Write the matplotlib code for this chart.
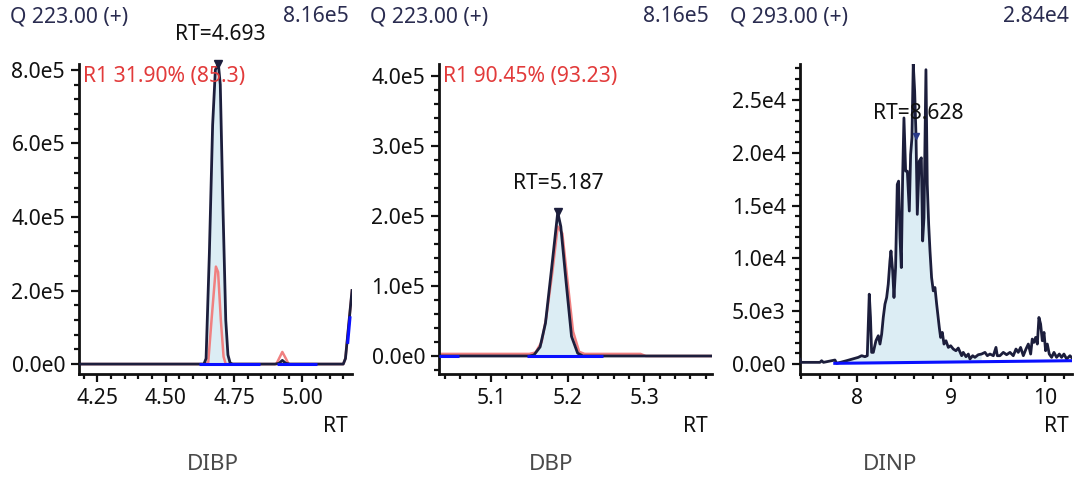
import numpy as np
import matplotlib
matplotlib.use("Agg")
import matplotlib.pyplot as plt
from matplotlib.ticker import MultipleLocator, FuncFormatter, FormatStrFormatter

plt.rcParams['font.family'] = ['Noto Sans', 'DejaVu Sans']

# ---------------- data ----------------
titles = ["DIBP", "DBP", "DINP"]
headers = ["Q 223.00 (+)", "Q 223.00 (+)", "Q 293.00 (+)"]
scales = ["8.16e5", "8.16e5", "2.84e4"]
ratio_labels = ["R1 31.90% (85.3)", "R1 90.45% (93.23)", None]
peak_rts = [4.693, 5.187, 8.628]
peak_vals = [8.16e5, 2.05e5, 2.16e4]

# DIBP
dibp_rt = [4.183, 4.600, 4.640, 4.648, 4.660, 4.672, 4.682, 4.693, 4.700, 4.710, 4.720,
           4.728, 4.736, 4.745, 4.900, 4.915, 4.927, 4.940, 4.955, 5.100, 5.150, 5.158, 5.182]
dibp_int = [0, 0, 0, 1.5e4, 3.0e5, 6.5e5, 8.0e5, 8.16e5, 7.6e5, 4.2e5, 1.2e5,
            2.5e4, 3e3, 0, 0, 2e3, 1.0e4, 2e3, 0, 0, 0, 1.5e4, 2.0e5]
dibp_q_rt = [4.183, 4.645, 4.656, 4.668, 4.684, 4.692, 4.702, 4.712, 4.720, 4.905, 4.915,
             4.927, 4.940, 4.950, 5.150, 5.158, 5.182]
dibp_q_int = [0, 0, 5e3, 1.2e5, 2.65e5, 2.5e5, 1.2e5, 2e4, 0, 0, 1.5e4,
              3.3e4, 1.5e4, 0, 0, 1.5e4, 2.0e5]
dibp_base = [[(4.623, 0), (4.845, 0)], [(4.906, 0), (5.055, 0)], [(5.166, 5.5e4), (5.175, 1.3e5)]]
dibp_window = (4.640, 4.745)

# DBP
dbp_rt = [5.032, 5.150, 5.156, 5.164, 5.171, 5.179, 5.187, 5.191, 5.198, 5.205, 5.213, 5.220, 5.388]
dbp_int = [0, 0, 1.5e3, 1.3e4, 4.7e4, 1.25e5, 2.05e5, 1.85e5, 1.05e5, 2.8e4, 4e3, 0, 0]
dbp_q_rt = [5.032, 5.150, 5.158, 5.166, 5.172, 5.180, 5.187, 5.193, 5.200, 5.207, 5.215,
            5.222, 5.295, 5.302, 5.388]
dbp_q_int = [3e3, 3e3, 5e3, 2.0e4, 5.5e4, 1.2e5, 1.85e5, 1.75e5, 1.05e5, 3.5e4, 6e3,
             3e3, 3e3, 0, 0]
dbp_base = [[(5.032, 0), (5.058, 0)], [(5.147, 0), (5.246, 0)]]
dbp_window = (5.150, 5.222)

# DINP
dinp_rt = [7.387, 7.397, 7.603, 7.620, 7.640, 7.762, 7.780, 7.886, 8.010, 8.046, 8.081, 8.106,
           8.127, 8.140, 8.152, 8.170, 8.198, 8.223, 8.241, 8.259, 8.276, 8.294, 8.312, 8.329,
           8.347, 8.358, 8.376, 8.390, 8.407, 8.425, 8.439, 8.454, 8.468, 8.482, 8.496,
           8.514, 8.532, 8.553, 8.567, 8.581, 8.595, 8.610, 8.624, 8.638, 8.659, 8.681,
           8.695, 8.709, 8.730, 8.744, 8.759, 8.773, 8.790, 8.808, 8.826, 8.844, 8.872,
           8.886, 8.904, 8.922, 8.943, 8.968, 8.993, 9.021, 9.049, 9.074, 9.110, 9.127,
           9.156, 9.181, 9.198, 9.227, 9.251, 9.287, 9.322, 9.358, 9.383, 9.411, 9.447,
           9.475, 9.489, 9.517, 9.553, 9.588, 9.624, 9.659, 9.688, 9.712, 9.737, 9.766,
           9.794, 9.819, 9.844, 9.861, 9.879, 9.897, 9.915, 9.932, 9.950, 9.968, 9.986,
           10.003, 10.021, 10.042, 10.067, 10.092, 10.120, 10.149, 10.173, 10.198, 10.227,
           10.262, 10.294]
dinp_int = [450, 157, 157, 315, 157, 378, 63, 315, 630, 787, 693, 787,
            6611, 4407, 1102, 1102, 2204, 2676, 1889, 2833, 4407, 5666, 6296, 7555,
            9759, 10703, 8814, 6296, 9129, 16999, 17314, 11962, 9129, 17629, 23295,
            18258, 18258, 14481, 19832, 21406, 28400, 25814, 21721, 14166, 19203, 19518,
            11648, 13851, 27860, 16999, 13222, 10703, 8185, 6926, 7240, 5666, 3463,
            2518, 2991, 1889, 2204, 1574, 1731, 1417, 1259, 1511, 787, 1102,
            693, 944, 472, 787, 630, 881, 944, 1102, 787, 944, 787,
            1574, 787, 787, 1102, 881, 1102, 787, 1417, 1102, 1574, 787,
            1417, 1889, 944, 2361, 2046, 2518, 1889, 4407, 3778, 2204, 2991,
            1259, 1889, 944, 630, 1102, 630, 944, 630, 944, 472,
            787, 472]
dinp_base = [[(7.744, 63), (10.294, 315)]]
dinp_window = (7.75, 9.35)

panels = [
    dict(rt=dibp_rt, y=dibp_int, qrt=dibp_q_rt, qy=dibp_q_int, base=dibp_base, win=dibp_window,
         xlim=(4.183, 5.182), ylim=(-2.7e4, 8.16e5), xmaj=0.25, xmin=0.05, ymaj=2e5, ymin=4e4,
         xfmt="%.2f", off=(2, 29), left=79, right=352),
    dict(rt=dbp_rt, y=dbp_int, qrt=dbp_q_rt, qy=dbp_q_int, base=dbp_base, win=dbp_window,
         xlim=(5.032, 5.388), ylim=(-2.57e4, 4.17e5), xmaj=0.1, xmin=0.02, ymaj=1e5, ymin=2e4,
         xfmt="%.1f", off=(1, 29), left=439, right=711.7),
    dict(rt=dinp_rt, y=dinp_int, qrt=None, qy=None, base=dinp_base, win=dinp_window,
         xlim=(7.387, 10.287), ylim=(-945, 2.84e4), xmaj=1.0, xmin=0.2, ymaj=5e3, ymin=1e3,
         xfmt="%d", off=(2, 22), left=799.7, right=1072.3),
]

header_x = [(10, 349), (370, 709), (730, 1069)]
title_x = [213, 551, 890]
rt_label_x = [348, 708, 1069]

W, H = 1077, 479
NAVY = "#1c1e3c"
HDR = "#2a2c50"
FILL = "#dcedf4"
RED = "#f08080"
BLUE = "#0a10ff"
FS = 15.2


def sci(v, pos):
    if abs(v) < 1e-9:
        return "0.0e0"
    e = int(np.floor(np.log10(abs(v)) + 1e-9))
    m = v / 10 ** e
    return f"{m:.1f}e{e}"


fig = plt.figure(figsize=(W / 100, H / 100), dpi=100)

for i, p in enumerate(panels):
    top, bottom = 64, 374
    ax = fig.add_axes([p['left'] / W, 1 - bottom / H, (p['right'] - p['left']) / W, (bottom - top) / H])
    rt = np.array(p['rt'])
    y = np.array(p['y'])

    # fill under peak window
    (b0x, b0y), (b1x, b1y) = p['base'][0] if i == 2 else ((rt[0], 0), (rt[-1], 0))
    mask = (rt >= p['win'][0]) & (rt <= p['win'][1])
    fx = rt[mask]
    fb = np.interp(fx, [b0x, b1x], [b0y, b1y])
    ax.fill_between(fx, fb, y[mask], where=y[mask] >= fb, color=FILL, lw=0, zorder=1)

    if p['qrt'] is not None:
        ax.plot(p['qrt'], p['qy'], color=RED, lw=1.8, zorder=2)
    ax.plot(rt, y, color=NAVY, lw=2.0, zorder=3)
    for seg in p['base']:
        xs = [s[0] for s in seg]
        ys = [s[1] for s in seg]
        ax.plot(xs, ys, color=BLUE, lw=2.2, zorder=4, solid_capstyle='butt')

    ax.plot([peak_rts[i]], [peak_vals[i]], marker='v', color=NAVY if i < 2 else "#2a3a8a",
            ms=6 if i < 2 else 4, zorder=5, clip_on=False, lw=0)
    ax.annotate(f"RT={peak_rts[i]:.3f}", xy=(peak_rts[i], peak_vals[i]), xytext=p['off'],
                textcoords='offset pixels', ha='center', va='center', fontsize=FS,
                color="#111111", annotation_clip=False, zorder=6)

    if ratio_labels[i]:
        ax.text(4.3 / (p['right'] - p['left']), 1 - 13 / (bottom - top), ratio_labels[i],
                transform=ax.transAxes, color="#e23b3b", fontsize=FS, ha='left', va='center')

    ax.set_xlim(*p['xlim'])
    ax.set_ylim(*p['ylim'])
    ax.xaxis.set_major_locator(MultipleLocator(p['xmaj']))
    ax.xaxis.set_minor_locator(MultipleLocator(p['xmin']))
    ax.yaxis.set_major_locator(MultipleLocator(p['ymaj']))
    ax.yaxis.set_minor_locator(MultipleLocator(p['ymin']))
    ax.xaxis.set_major_formatter(FormatStrFormatter(p['xfmt']))
    ax.yaxis.set_major_formatter(FuncFormatter(sci))
    for s in ['top', 'right']:
        ax.spines[s].set_visible(False)
    for s in ['left', 'bottom']:
        ax.spines[s].set_linewidth(2)
        ax.spines[s].set_color("#111111")
    ax.tick_params(which='major', length=6, width=1.6, labelsize=FS, colors="#111111", pad=4)
    ax.tick_params(which='minor', length=3.5, width=1.6, colors="#111111")
    ax.set_facecolor('white')

    hx0, hx1 = header_x[i]
    fig.text(hx0 / W, 1 - 17 / H, headers[i], ha='left', va='center', fontsize=FS, color=HDR)
    fig.text(hx1 / W, 1 - 17 / H, scales[i], ha='right', va='center', fontsize=FS, color=HDR)
    fig.text(rt_label_x[i] / W, 1 - 427 / H, "RT", ha='right', va='center', fontsize=FS, color="#111111")
    fig.text(title_x[i] / W, 1 - 465 / H, titles[i], ha='center', va='center', fontsize=FS + 1,
             color="#4a4a4a")

fig.savefig("out.png", dpi=100, facecolor='white')
